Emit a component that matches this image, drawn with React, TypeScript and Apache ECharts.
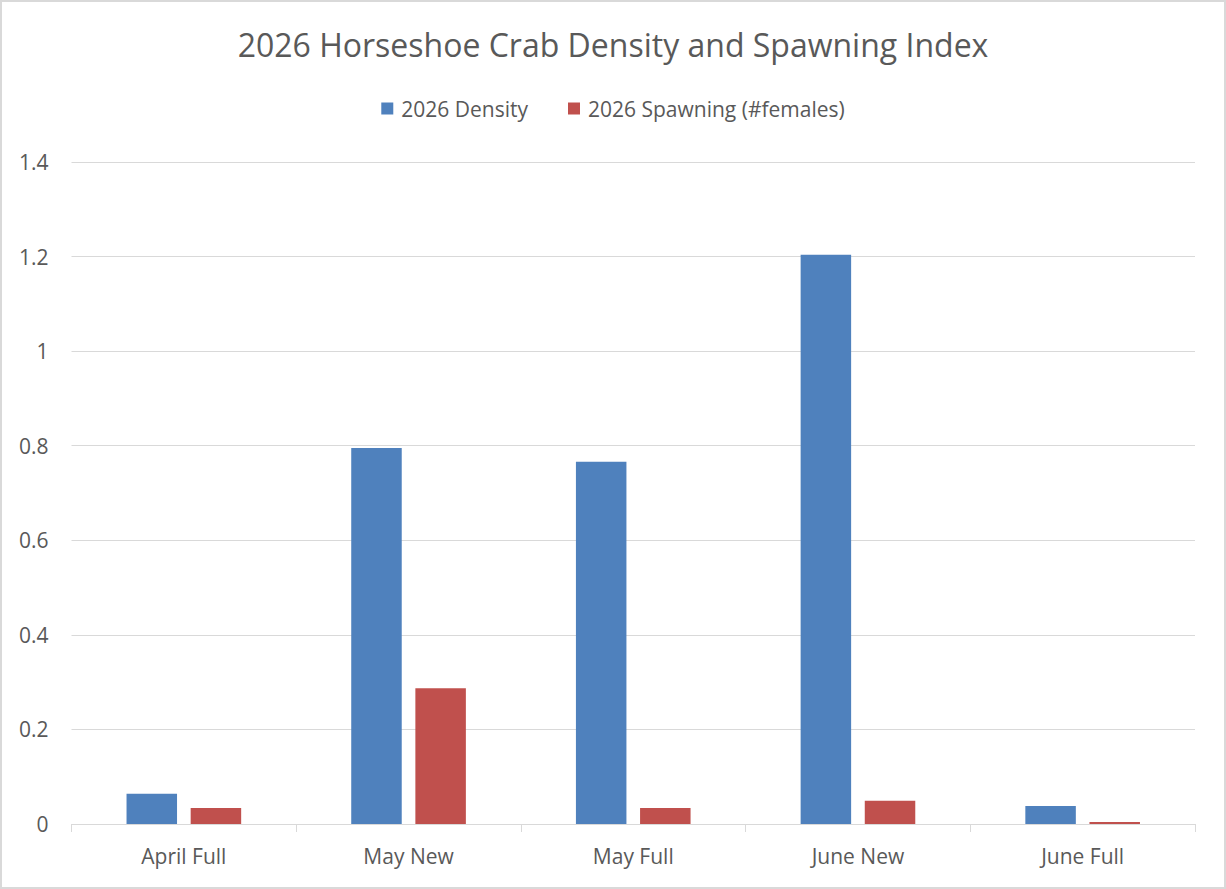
import React, { useEffect, useRef } from "react";
import * as echarts from "echarts";

const categories = ["April Full", "May New", "May Full", "June New", "June Full"];
const densityValues = [0.064, 0.795, 0.766, 1.204, 0.038];
const spawningValues = [0.034, 0.287, 0.034, 0.049, 0.004];
const seriesNames = ["2026 Density", "2026 Spawning (#females)"];
const titleText = "2026 Horseshoe Crab Density and Spawning Index";

const FONT = "'Open Sans', 'Liberation Sans', sans-serif";
const TEXT = "#595959";

export default function App() {
  const ref = useRef<HTMLDivElement>(null);
  useEffect(() => {
    document.body.style.margin = "0";
    if (!ref.current) return;
    const chart = echarts.init(ref.current, undefined, { renderer: "svg" });
    chart.setOption({
      animation: false,
      backgroundColor: "#ffffff",
      graphic: [
        {
          type: "rect",
          shape: { x: 1, y: 1, width: 1224, height: 887 },
          style: { fill: "none", stroke: "#d9d9d9", lineWidth: 2 },
          silent: true,
        },
      ],
      title: {
        text: titleText,
        left: "center",
        top: 23,
        textStyle: { color: TEXT, fontFamily: FONT, fontSize: 32, fontWeight: "normal" },
      },
      legend: {
        top: 93,
        left: "center",
        icon: "rect",
        itemWidth: 12,
        itemHeight: 12,
        itemGap: 40,
        textStyle: { color: TEXT, fontFamily: FONT, fontSize: 21, padding: [0, 0, 0, 3] },
        data: seriesNames,
      },
      grid: { left: 71.5, right: 31, top: 162, bottom: 65, containLabel: false },
      xAxis: {
        type: "category",
        data: categories,
        axisLine: { lineStyle: { color: "#d9d9d9", width: 1 } },
        axisTick: { show: true, length: 8, alignWithLabel: false, lineStyle: { color: "#d9d9d9" } },
        axisLabel: { color: TEXT, fontFamily: FONT, fontSize: 21, margin: 21 },
        splitLine: { show: false },
      },
      yAxis: {
        type: "value",
        min: 0,
        max: 1.4,
        interval: 0.2,
        axisLine: { show: false },
        axisTick: { show: false },
        axisLabel: { color: TEXT, fontFamily: FONT, fontSize: 21, margin: 23 },
        splitLine: { lineStyle: { color: "#d9d9d9", width: 1 } },
      },
      series: [
        {
          name: seriesNames[0],
          type: "bar",
          data: densityValues,
          barWidth: 50.5,
          barGap: "27%",
          itemStyle: { color: "#4F81BD" },
        },
        {
          name: seriesNames[1],
          type: "bar",
          data: spawningValues,
          barWidth: 50.5,
          barGap: "27%",
          itemStyle: { color: "#C0504D" },
        },
      ],
    });
    return () => chart.dispose();
  }, []);
  return <div ref={ref} style={{ width: 1226, height: 889 }} />;
}
